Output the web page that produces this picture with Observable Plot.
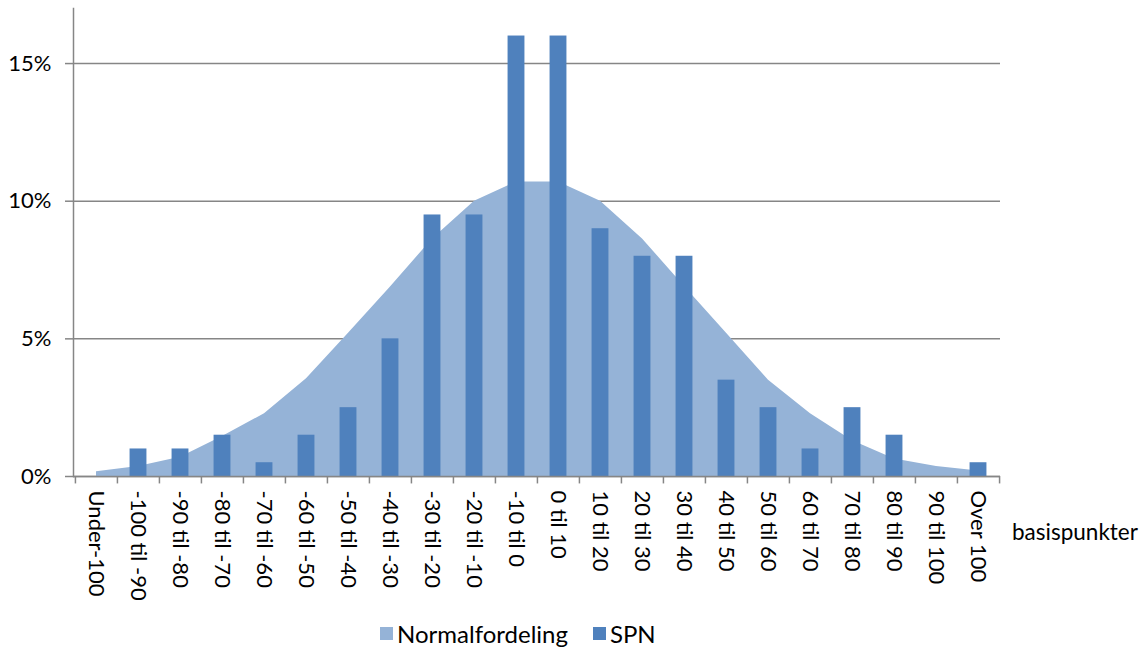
<!DOCTYPE html>
<html><head><meta charset="utf-8">
<script src="https://cdn.jsdelivr.net/npm/d3@7"></script>
<script src="https://cdn.jsdelivr.net/npm/@observablehq/plot@0.6"></script>
<style>
body{margin:0;background:#fff;font-family:Lato,sans-serif;color:#000;}
#wrap{position:relative;width:1143px;height:649px;overflow:hidden;}
#xlabel{position:absolute;left:1012px;top:518px;font-size:22.5px;white-space:nowrap;}
#legend{position:absolute;left:380px;top:619px;display:flex;align-items:center;font-size:24px;white-space:nowrap;}
.item{display:flex;align-items:center;margin-right:25px;}
.sw{width:13px;height:13px;margin-right:4px;}
</style></head><body>
<div id="wrap"><div id="xlabel">basispunkter</div><div id="legend"></div></div>
<script>
const categories = ["Under-100","-100 til -90","-90 til -80","-80 til -70","-70 til -60","-60 til -50","-50 til -40","-40 til -30","-30 til -20","-20 til -10","-10 til 0","0 til 10","10 til 20","20 til 30","30 til 40","40 til 50","50 til 60","60 til 70","70 til 80","80 til 90","90 til 100","Over 100"];
const spnValues = [0,1,1,1.5,0.5,1.5,2.5,5,9.5,9.5,16,16,9,8,8,3.5,2.5,1,2.5,1.5,0,0.5];
const normalValues = [0.17,0.36,0.7,1.45,2.28,3.55,5.2,6.88,8.63,10.0,10.7,10.7,10.0,8.63,6.9,5.2,3.5,2.28,1.3,0.64,0.36,0.2];
const yTicks = [0,5,10,15];
const seriesNames = ["Normalfordeling","SPN"];
const seriesColors = ["#95B3D7","#4F81BD"];

const data = categories.map((c,i)=>({cat:c, spn:spnValues[i], normal:normalValues[i]}));

const W = 1143, H = 615, mL = 73, mR = 143, mT = 8, mB = 139;
const step = (W - mL - mR) / categories.length;
const grey = "#868686";

const chart = Plot.plot({
  width: W, height: H,
  marginLeft: mL, marginRight: mR, marginTop: mT, marginBottom: mB,
  style: {fontFamily: "Lato, sans-serif", fontSize: "22px", color: "#000", background: "#fff"},
  x: {type: "band", domain: categories, padding: 0},
  y: {domain: [0, 17]},
  marks: [
    Plot.gridY(yTicks, {stroke: grey, strokeOpacity: 1, strokeWidth: 1.5}),
    Plot.areaY(data, {x: "cat", y: "normal", fill: seriesColors[0]}),
    Plot.barY(data, {x: "cat", y: "spn", fill: seriesColors[1], insetLeft: (step-17)/2, insetRight: (step-17)/2}),
    Plot.ruleY([0], {stroke: grey, strokeWidth: 1.5}),
    Plot.frame({anchor: "left", stroke: grey, strokeWidth: 1.5}),
    Plot.ruleX(categories, {x: d => d, dx: -step/2, y1: 0, y2: -0.27, stroke: grey, strokeWidth: 1.5}),
    Plot.ruleX(categories.slice(-1), {x: d => d, dx: step/2, y1: 0, y2: -0.27, stroke: grey, strokeWidth: 1.5}),
    Plot.axisY(yTicks, {tickSize: 8, tickPadding: 14, stroke: grey, strokeWidth: 1.5, tickFormat: d => d + "%", fontSize: 22, label: null}),
    Plot.axisX({tickSize: 0, tickPadding: 14, tickRotate: 90, fontSize: 22, label: null})
  ]
});
document.getElementById("wrap").prepend(chart);

const lg = document.getElementById("legend");
seriesNames.forEach((n,i)=>{
  const it = document.createElement("div"); it.className = "item";
  const sw = document.createElement("div"); sw.className = "sw"; sw.style.background = seriesColors[i];
  const tx = document.createElement("span"); tx.textContent = n;
  it.append(sw, tx); lg.append(it);
});
</script>
</body></html>
